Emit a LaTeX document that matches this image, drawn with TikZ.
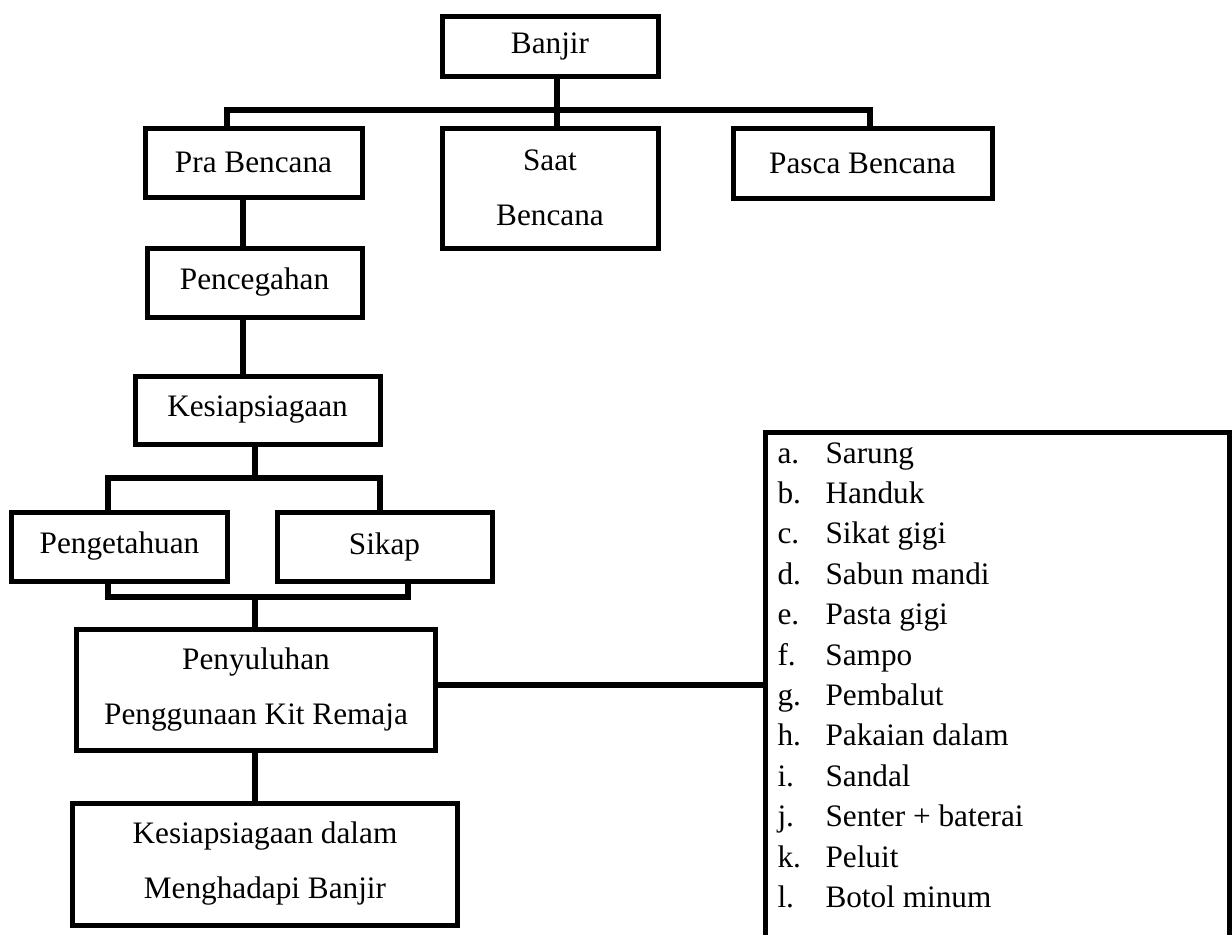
\documentclass[tikz,border=0pt]{standalone}
\usepackage{fontspec}
\setmainfont{Liberation Serif}
\usepackage{tikz}
\newcommand{\kitrow}[2]{\makebox[19.2pt][l]{#1}#2}

\begin{document}
\begin{tikzpicture}[x=0.4pt,y=-0.4pt,line width=2pt,font=\fontsize{12.5}{22}\selectfont]
              \tikzstyle{box}=[draw,rectangle,align=center,inner sep=1pt]
              \tikzstyle{link}=[line width=2.2pt]
              \tikzstyle{kitbox}=[draw,rectangle,anchor=north west,minimum width=185.6pt,minimum height=216pt]

              \useasboundingbox (0,0) rectangle (1232,934);

              \node[box,minimum width=86.4pt,minimum height=24pt]   (banjir) at (550,46)      {Banjir};
              \node[box,minimum width=86.8pt,minimum height=27.6pt] (pra)    at (253.5,162.5) {Pra Bencana};
              \node[box,minimum width=86.4pt,minimum height=48pt]   (saat)   at (550,188)     {Saat\\Bencana};
              \node[box,minimum width=103.6pt,minimum height=28pt]  (pasca)  at (862.5,163)   {Pasca Bencana};
              \node[box,minimum width=86pt,minimum height=27.6pt]   (cegah)  at (254.5,282.5) {Pencegahan};
              \node[box,minimum width=98pt,minimum height=27.2pt]   (siaga)  at (257.5,410)   {Kesiapsiagaan};
              \node[box,minimum width=86pt,minimum height=27.6pt]   (tahu)   at (119.5,546.5) {Pengetahuan};
              \node[box,minimum width=86pt,minimum height=27.6pt]   (sikap)  at (384.5,546.5) {Sikap};
              \node[box,minimum width=143.2pt,minimum height=48.4pt] (suluh) at (256,689.5)   {Penyuluhan\\Penggunaan Kit Remaja};
              \node[box,minimum width=153.6pt,minimum height=48.8pt] (hasil) at (265,864)     {Kesiapsiagaan dalam\\Menghadapi Banjir};
              \node[kitbox] (kit) at (763,430) {};
              \node[anchor=base west,inner sep=0pt,font=\fontsize{12.5}{16.16}\selectfont] (items) at (775,463)
                {\begin{tabular}[t]{@{}l@{}}
                  \kitrow{a.}{Sarung}\\
                  \kitrow{b.}{Handuk}\\
                  \kitrow{c.}{Sikat gigi}\\
                  \kitrow{d.}{Sabun mandi}\\
                  \kitrow{e.}{Pasta gigi}\\
                  \kitrow{f.}{Sampo}\\
                  \kitrow{g.}{Pembalut}\\
                  \kitrow{h.}{Pakaian dalam}\\
                  \kitrow{i.}{Sandal}\\
                  \kitrow{j.}{Senter + baterai}\\
                  \kitrow{k.}{Peluit}\\
                  \kitrow{l.}{Botol minum}
                \end{tabular}};

              % branch points
              \coordinate (jtop)    at (557,110);
              \coordinate (jpra)    at (227,110);
              \coordinate (jpasca)  at (870,110);
              \coordinate (spine)   at (243,0);
              \coordinate (jup)     at (255,478);
              \coordinate (jtahu)   at (108,478);
              \coordinate (jsikap)  at (380,478);
              \coordinate (jdown)   at (255,597);
              \coordinate (jtahu2)  at (108,597);
              \coordinate (jsikap2) at (408,597);
              \coordinate (jkit)    at (0,685);

              \draw[link] (banjir.south -| jtop) -- (saat.north -| jtop);
              \draw[link] (pra.north -| jpra) -- (jpra) -- (jpasca) -- (pasca.north -| jpasca);
              \draw[link] (pra.south -| spine) -- (cegah.north -| spine);
              \draw[link] (cegah.south -| spine) -- (siaga.north -| spine);
              \draw[link] (siaga.south -| jup) -- (jup);
              \draw[link] (tahu.north -| jtahu) -- (jtahu) -- (jsikap) -- (sikap.north -| jsikap);
              \draw[link] (tahu.south -| jtahu2) -- (jtahu2) -- (jsikap2) -- (sikap.south -| jsikap2);
              \draw[link] (jdown) -- (suluh.north -| jdown);
              \draw[link] (suluh.south -| jdown) -- (hasil.north -| jdown);
              \draw[link] (suluh.east |- jkit) -- (kit.west |- jkit);

\end{tikzpicture}
\end{document}
